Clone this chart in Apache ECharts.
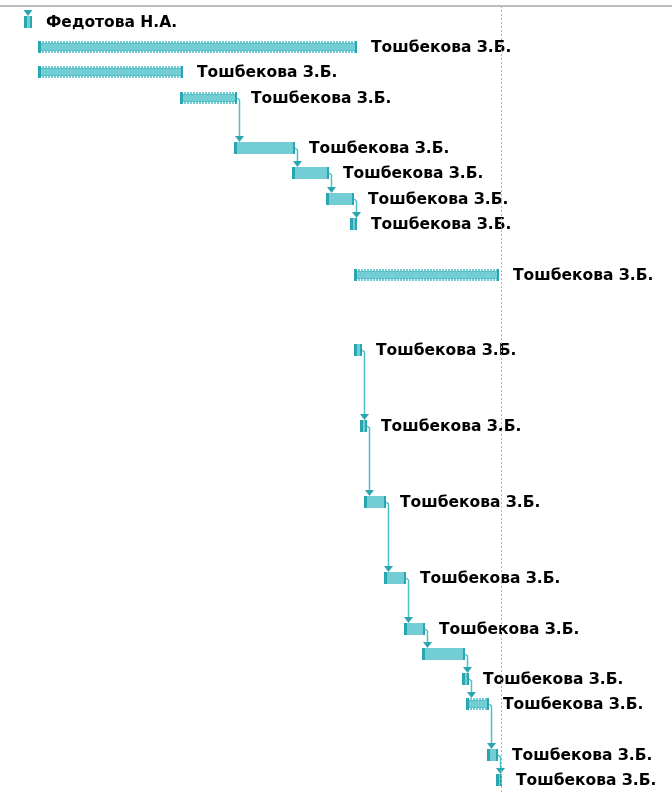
<!DOCTYPE html>
<html>
<head>
<meta charset="utf-8">
<script src="https://cdn.jsdelivr.net/npm/echarts@6/dist/echarts.min.js"></script>
<style>
  html, body { margin: 0; padding: 0; background: #fff; }
  #gantt { width: 672px; height: 793px; }
</style>
</head>
<body>
<div id="gantt"></div>
<script>
// строки диаграммы (пустые строки пропущены)
const rows = [0, 1, 2, 3, 5, 6, 7, 8, 10, 13, 16, 19, 22, 24, 25, 26, 27, 29, 30];
// начало и конец задач, в днях
const starts = [3.4, 5.4, 5.4, 25.7, 33.4, 41.7, 46.6, 50.0, 50.6, 50.6, 51.4, 52.0, 54.9, 57.7, 60.3, 66.0, 66.6, 69.6, 70.9];
const ends = [4.6, 51.0, 26.1, 33.9, 42.1, 47.0, 50.6, 51.0, 71.3, 51.7, 52.4, 55.1, 58.0, 60.7, 66.4, 67.0, 69.9, 71.1, 71.7];
// штрихованные (суммарные) задачи
const hatched = [0, 1, 1, 1, 0, 0, 0, 0, 1, 0, 0, 0, 0, 0, 0, 0, 1, 0, 0];
const names = ['Федотова Н.А.', 'Тошбекова З.Б.', 'Тошбекова З.Б.', 'Тошбекова З.Б.', 'Тошбекова З.Б.',
  'Тошбекова З.Б.', 'Тошбекова З.Б.', 'Тошбекова З.Б.', 'Тошбекова З.Б.', 'Тошбекова З.Б.',
  'Тошбекова З.Б.', 'Тошбекова З.Б.', 'Тошбекова З.Б.', 'Тошбекова З.Б.', '',
  'Тошбекова З.Б.', 'Тошбекова З.Б.', 'Тошбекова З.Б.', 'Тошбекова З.Б.'];
// связи: [предшественник, последователь], null — связь сверху
const links = [[null, 0], [3, 4], [4, 5], [5, 6], [6, 7], [9, 10], [10, 11], [11, 12], [12, 13],
  [13, 14], [14, 15], [15, 16], [16, 17], [17, 18]];
const today = 71.6;

const LIGHT = '#72cdd4';
const DARK = '#2aa6b0';
const BAR_H = 12;

const chart = echarts.init(document.getElementById('gantt'));

function renderBar(params, api) {
  const s = api.coord([api.value(0), api.value(2)]);
  const e = api.coord([api.value(1), api.value(2)]);
  const x0 = Math.round(s[0]), x1 = Math.round(e[0]), yc = Math.round(s[1]);
  const top = yc - BAR_H / 2;
  const w = Math.max(x1 - x0, 5);
  const children = [
    {type: 'rect', shape: {x: x0, y: top, width: w, height: BAR_H}, style: {fill: LIGHT}},
    {type: 'rect', shape: {x: x0, y: top, width: 3, height: BAR_H}, style: {fill: DARK}},
    {type: 'rect', shape: {x: x0 + w - 2, y: top, width: 2, height: BAR_H}, style: {fill: DARK}}
  ];
  if (api.value(3)) {
    children.push({type: 'line', shape: {x1: x0 + 3, y1: top + 1, x2: x0 + w - 2, y2: top + 1},
      style: {stroke: '#fff', lineWidth: 2, lineDash: [1, 2]}});
    children.push({type: 'line', shape: {x1: x0 + 3, y1: top + BAR_H - 1, x2: x0 + w - 2, y2: top + BAR_H - 1},
      style: {stroke: '#fff', lineWidth: 2, lineDash: [1, 2]}});
    children.push({type: 'line', shape: {x1: x0 + 3, y1: top + 2.5, x2: x0 + w - 2, y2: top + 2.5},
      style: {stroke: DARK, lineWidth: 1, opacity: 0.35}});
    children.push({type: 'line', shape: {x1: x0 + 3, y1: top + BAR_H - 2.5, x2: x0 + w - 2, y2: top + BAR_H - 2.5},
      style: {stroke: DARK, lineWidth: 1, opacity: 0.35}});
  }
  const label = names[params.dataIndex];
  if (label) {
    children.push({type: 'text', style: {
      x: x0 + w + 14, y: yc + 1, text: label, fill: '#000',
      font: 'bold 15.5px "DejaVu Sans", sans-serif',
      align: 'left', verticalAlign: 'middle'
    }});
  }
  return {type: 'group', children: children};
}

function renderLink(params, api) {
  const link = links[params.dataIndex];
  const from = link[0], to = link[1];
  const target = api.coord([starts[to], rows[to]]);
  const targetTop = Math.round(target[1]) - BAR_H / 2;
  const children = [];
  let xv;
  if (from === null) {
    xv = api.coord([(starts[to] + ends[to]) / 2, rows[to]])[0];
  } else {
    const src = api.coord([ends[from], rows[from]]);
    const sy = Math.round(src[1]);
    xv = Math.round(src[0]) + 2.5;
    children.push({type: 'polyline', shape: {points: [[src[0], sy], [xv, sy + 2], [xv, targetTop - 5]]},
      style: {stroke: '#4dbfc8', lineWidth: 1.5, fill: null}});
  }
  children.push({type: 'polygon', shape: {points: [[xv - 4.5, targetTop - 6], [xv + 4.5, targetTop - 6], [xv, targetTop]]},
    style: {fill: DARK}});
  return {type: 'group', children: children};
}

chart.setOption({
  animation: false,
  grid: {left: 0, right: 0, top: 6, height: 794},
  xAxis: {
    type: 'value', min: 0, max: 96, position: 'top',
    axisLine: {show: true, onZero: false, lineStyle: {color: '#a6a6a6', width: 1.5}},
    axisTick: {show: false}, axisLabel: {show: false}, splitLine: {show: false}
  },
  yAxis: {type: 'value', inverse: true, min: -0.62, max: 30.5, show: false},
  series: [
    {
      type: 'custom',
      renderItem: renderLink,
      data: links.map(l => [starts[l[1]], rows[l[1]]]),
      z: 3
    },
    {
      type: 'custom',
      renderItem: renderBar,
      encode: {x: [0, 1], y: 2},
      data: rows.map((r, i) => [starts[i], ends[i], r, hatched[i]]),
      z: 2,
      markLine: {
        silent: true, symbol: 'none', label: {show: false},
        lineStyle: {color: '#b5b5b5', type: [2, 2], width: 1},
        data: [{xAxis: today}]
      }
    }
  ]
});
</script>
</body>
</html>
